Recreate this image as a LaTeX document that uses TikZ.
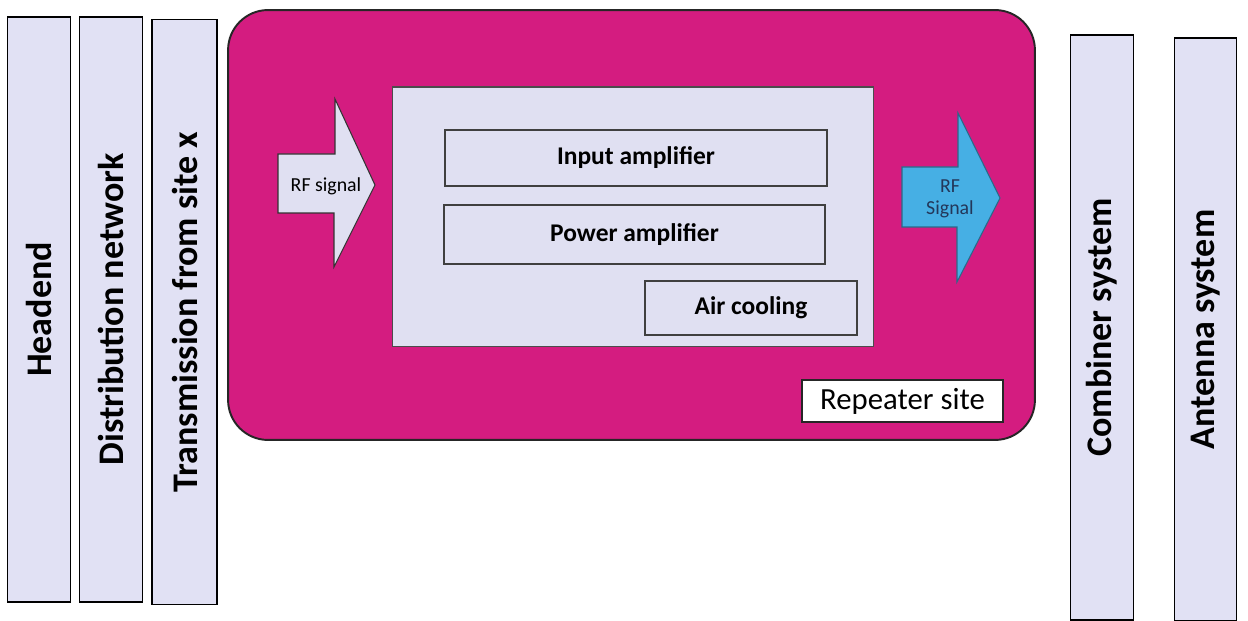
\documentclass[tikz,border=0pt]{standalone}
\usepackage{fontspec}
\setmainfont{Carlito}
\usetikzlibrary{positioning}
\definecolor{sitepink}{RGB}{212,28,128}
\definecolor{barfill}{RGB}{225,225,244}
\definecolor{boxfill}{RGB}{224,224,242}
\definecolor{sigblue}{RGB}{70,175,228}
\definecolor{sigtext}{RGB}{35,55,90}

\begin{document}
\begin{tikzpicture}[x=0.02cm, y=-0.02cm,
  bar/.style={draw, fill=barfill, line width=0.8pt, minimum width=1.25cm, minimum height=11.7cm, inner sep=0pt},
  barlab/.style={rotate=90, inner sep=0pt, font=\bfseries\fontsize{20.5}{24}\selectfont},
  unit/.style={draw=black!75, fill=boxfill, line width=0.7pt, inner sep=0pt, font=\bfseries\fontsize{14.5}{16}\selectfont},
  sig/.style={draw=black!80, line width=0.6pt},
  siglab/.style={align=center, inner sep=0pt, font=\fontsize{11.3}{12.5}\selectfont}]
\useasboundingbox (0,0) rectangle (1248,621);
\node[bar] (headend) at (39,309.5) {};
\node[bar] (distnet) at (111,309.5) {};
\node[bar, minimum width=1.3cm] (transm) at (184.5,312) {};
\node[bar] (combiner) at (1102,327.5) {};
\node[bar, minimum height=11.66cm] (antenna) at (1205.5,329.5) {};
\node[barlab] (headendlab) at (headend) {Headend};
\node[barlab] (distnetlab) at (distnet) {Distribution network};
\node[barlab] (transmlab) at (transm) {Transmission from site x};
\node[barlab] (combinerlab) at (combiner) {Combiner system};
\node[barlab] (antennalab) at (antenna) {Antenna system};

\node[draw=black!85, fill=sitepink, line width=1.1pt, rounded corners=0.8cm, minimum width=16.14cm, minimum height=8.6cm] (repeater) at (631.5,225) {};
\node[draw=black!70, fill=boxfill, line width=0.6pt, minimum width=9.64cm, minimum height=5.2cm] (equip) at (633,217) {};
\node[unit, minimum width=7.64cm, minimum height=1.12cm] (inamp) at (636,158) {Input amplifier};
\node[unit, minimum width=7.62cm, minimum height=1.18cm] (pwramp) at (634.5,234.5) {Power amplifier};
\node[unit, minimum width=4.24cm, minimum height=1.08cm] (cooling) at (751,308) {Air cooling};
\node[draw=black!85, fill=white, line width=0.8pt, minimum width=4.02cm, minimum height=0.84cm, font=\fontsize{17.5}{20}\selectfont] (site) at (902.5,401) {Repeater site};

\draw[sig, fill=boxfill] (278,154) -- (335,154) -- (335,99) -- (375,185) -- (334,267) -- (334,213) -- (278,213) -- cycle;
\node[siglab] (rfin) at (326,186) {RF signal};
\draw[sig, draw=sigblue!60!black, fill=sigblue] (902,167) -- (958,167) -- (958,113) -- (1000,198) -- (957,282) -- (957,227) -- (902,227) -- cycle;
\node[siglab, text=sigtext] (rfout) at (950,199) {RF\\Signal};
\end{tikzpicture}
\end{document}
